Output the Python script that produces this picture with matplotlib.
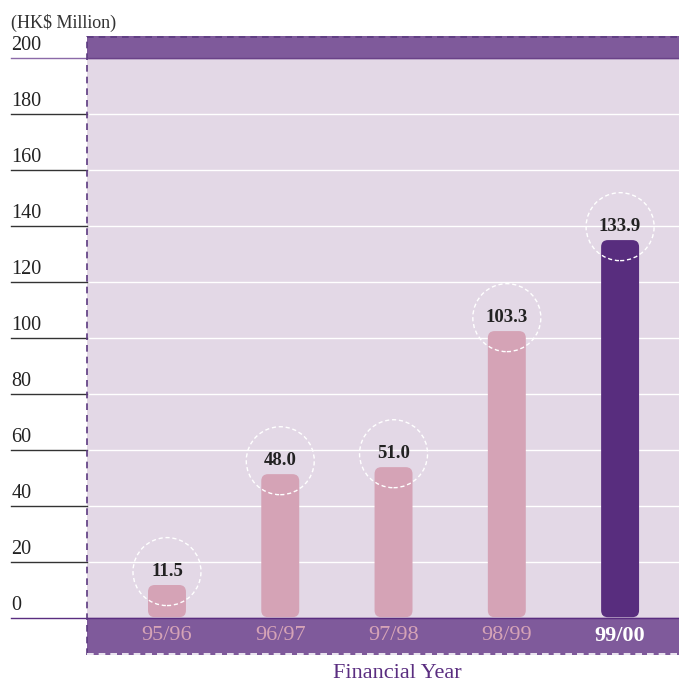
import matplotlib.pyplot as plt
from matplotlib.patches import FancyBboxPatch, Ellipse, Rectangle

years = ["95/96", "96/97", "97/98", "98/99", "99/00"]
labels = ["11.5", "48.0", "51.0", "103.3", "133.9"]
# bar heights as drawn in the picture (slightly off the printed labels)
heights = [11.8, 51.4, 53.9, 102.5, 135.0]
yticks = [0, 20, 40, 60, 80, 100, 120, 140, 160, 180, 200]

pink = "#d5a3b6"
dark = "#582d7e"
band = "#7f5a9b"
bg = "#e3d8e6"
serif = ["Liberation Serif", "DejaVu Serif"]

fig = plt.figure(figsize=(6.79, 6.83), dpi=100)
ax = fig.add_axes([87 / 679, 28 / 683, 592 / 679, 619 / 683])
ax.set_facecolor(bg)
ax.set_xlim(-0.706, 4.52)
ax.set_ylim(-13.2, 207.9)
for s in ax.spines.values():
    s.set_visible(False)
ax.set_xticks([])
ax.set_yticks([])

# bands
ax.add_patch(Rectangle((-0.706, 200), 5.3, 7.9, color=band, zorder=1))
ax.add_patch(Rectangle((-0.706, -13.2), 5.3, 13.2, color=band, zorder=1))
ax.axhline(200, color="#6a4288", lw=1, zorder=2)
ax.axhline(0, color="#5a2d80", lw=1, zorder=2)

# grid + left ticks
yt = ax.get_yaxis_transform()
for v in yticks:
    if 0 < v < 200:
        ax.axhline(v, color="white", lw=1, zorder=1)
        c = "#333333"
    elif v == 200:
        c = "#8b6aa8"
    else:
        c = "#5a2d80"
    ax.plot([-0.128, 0], [v, v], color=c, lw=1, transform=yt, clip_on=False)
    ax.text(-0.128, v + 1.0, str(v), transform=yt, ha="left", va="bottom",
            fontsize=14.5, family=serif, color="#222222")

ax.text(-0.128, 212.5, "(HK$ Million)", transform=yt, ha="left", va="center",
        fontsize=13, family=serif, color="#333333", clip_on=False)

# dashed borders
ax.plot([0, 0], [-13.2, 207.9], transform=yt, color="#5c3a80", lw=1.2,
        ls=(0, (4, 3)), clip_on=False, zorder=5)
ax.plot([0, 1], [207.6, 207.6], transform=yt, color="#5c3a80", lw=1.2,
        ls=(0, (4, 3)), clip_on=False, zorder=5)
ax.plot([0, 1], [-12.9, -12.9], transform=yt, color="white", lw=1.2,
        ls=(0, (4, 3)), clip_on=False, zorder=5)

# bars
w = 0.335
last = len(heights) - 1
for i, h in enumerate(heights):
    col = dark if i == last else pink
    ax.add_patch(FancyBboxPatch((i - w / 2, 0.3), w, h - 0.3,
                                boxstyle="round,pad=0,rounding_size=0.06",
                                mutation_aspect=40.5,
                                fc=col, ec="none", zorder=3))
    ly = h + 4.8
    ax.text(i, ly, labels[i], ha="center", va="center", fontsize=13.5,
            fontweight="bold", family=serif, color="#222222", zorder=6)
    ax.add_patch(Ellipse((i, ly), 68 / 113.3, 68 / 2.8, fill=False,
                         ec="white", lw=1, ls=(0, (3, 2)), zorder=4))
    tc = "white" if i == last else pink
    ax.text(i, -6.3, years[i], ha="center", va="center", fontsize=16,
            family=serif, color=tc, zorder=6,
            fontweight="bold" if i == last else "normal")

fig.text(397 / 679, 1 - 673 / 683, "Financial Year", ha="center", va="center",
         fontsize=16, family=serif, color="#5a2d80")

fig.savefig("out.png", dpi=100)
